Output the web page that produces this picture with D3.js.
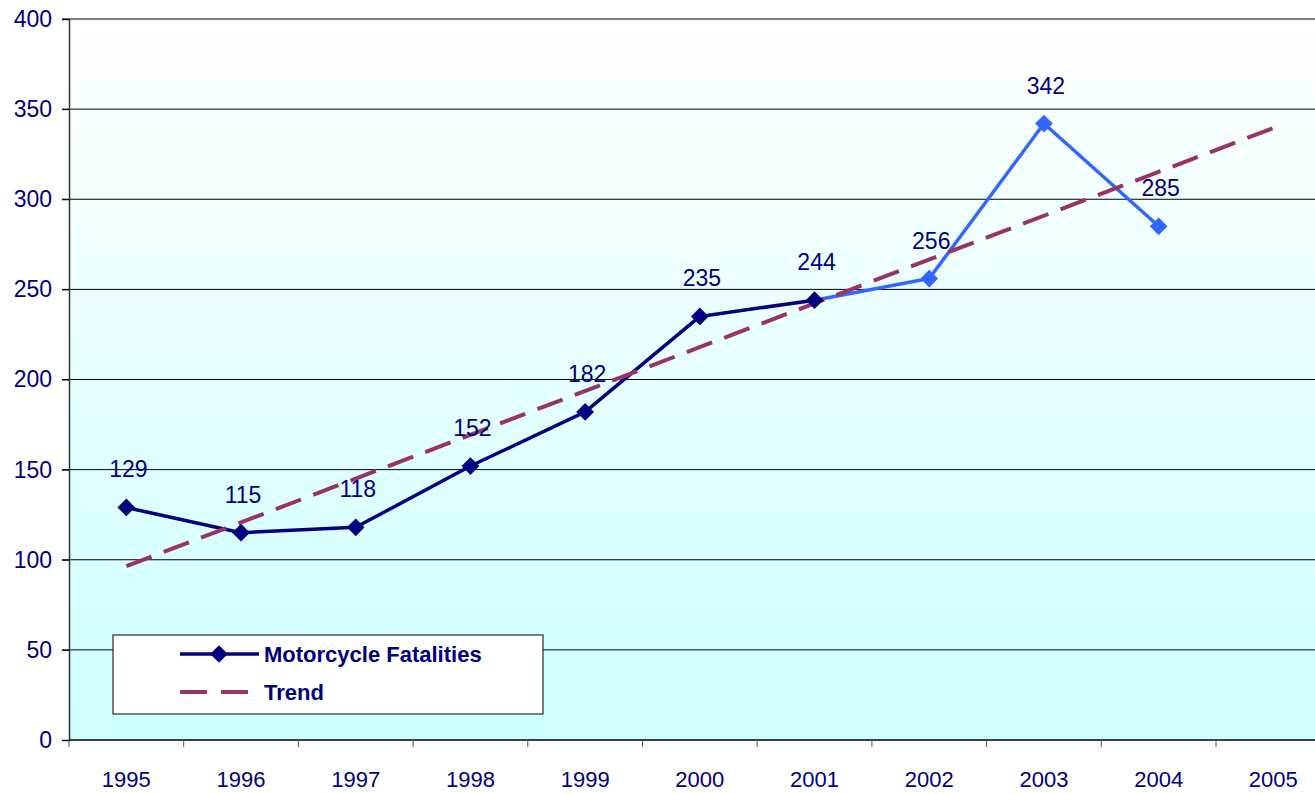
<!DOCTYPE html>
<html>
<head>
<meta charset="utf-8">
<script src="https://cdn.jsdelivr.net/npm/d3@7"></script>
<style>
  body { margin: 0; background: #ffffff; overflow: hidden; }
  text { font-family: "Liberation Sans", Arial, sans-serif; }
</style>
</head>
<body>
<div id="chart"></div>
<script>
// data
var years = ["1995", "1996", "1997", "1998", "1999", "2000", "2001", "2002", "2003", "2004", "2005"];
var fatalityYears = ["1995", "1996", "1997", "1998", "1999", "2000", "2001", "2002", "2003", "2004"];
var fatalities = [129, 115, 118, 152, 182, 235, 244, 256, 342, 285];
var trendYears = ["1995", "2005"];
var trendValues = [96.4, 339.5];
var yTicks = [0, 50, 100, 150, 200, 250, 300, 350, 400];

var W = 1315, H = 794;
var margin = {top: 19, left: 69, bottom: 54};
var bandW = 114.7;
var plotRight = margin.left + bandW * years.length;

var svg = d3.select("#chart").append("svg")
    .attr("width", W)
    .attr("height", H);

var x = d3.scaleBand()
    .domain(years)
    .range([margin.left, plotRight]);
var y = d3.scaleLinear()
    .domain([0, 400])
    .range([H - margin.bottom, margin.top]);

var cx = function(yr) { return x(yr) + x.bandwidth() / 2; };

// background gradient
var grad = svg.append("defs").append("linearGradient")
    .attr("id", "bg").attr("x1", 0).attr("y1", 0).attr("x2", 0).attr("y2", 1);
grad.append("stop").attr("offset", "0%").attr("stop-color", "#ffffff");
grad.append("stop").attr("offset", "100%").attr("stop-color", "#ccffff");

svg.append("rect")
    .attr("x", margin.left)
    .attr("y", y(400))
    .attr("width", plotRight - margin.left)
    .attr("height", y(0) - y(400))
    .attr("fill", "url(#bg)");

// gridlines
svg.append("g")
    .selectAll("line")
    .data(yTicks.filter(function(d) { return d > 0; }))
    .enter().append("line")
    .attr("x1", margin.left - 7)
    .attr("x2", plotRight)
    .attr("y1", function(d) { return y(d); })
    .attr("y2", function(d) { return y(d); })
    .attr("stroke", "#000")
    .attr("stroke-width", 1);

// Y axis
var yAxis = svg.append("g")
    .attr("transform", "translate(" + margin.left + ",0)")
    .call(d3.axisLeft(y).tickValues(yTicks).tickSize(7).tickPadding(10));
yAxis.select(".domain").attr("stroke", "#333").attr("stroke-width", 1.5);
yAxis.selectAll(".tick line").attr("stroke", "#000");
yAxis.selectAll(".tick text")
    .attr("fill", "#000080")
    .style("font-size", "23px")
    .style("font-family", "Liberation Sans, Arial, sans-serif");

// X axis (ticks between categories)
var xAxisG = svg.append("g")
    .attr("transform", "translate(0," + y(0) + ")");
xAxisG.append("line")
    .attr("x1", margin.left).attr("x2", plotRight)
    .attr("stroke", "#000").attr("stroke-width", 1.5);
xAxisG.selectAll(".sep")
    .data(years)
    .enter().append("line")
    .attr("class", "sep")
    .attr("x1", function(d) { return x(d); })
    .attr("x2", function(d) { return x(d); })
    .attr("y1", 0).attr("y2", 7)
    .attr("stroke", "#555");
xAxisG.selectAll(".lbl")
    .data(years)
    .enter().append("text")
    .attr("class", "lbl")
    .attr("x", function(d) { return cx(d); })
    .attr("y", 47)
    .attr("text-anchor", "middle")
    .attr("fill", "#000080")
    .style("font-size", "22px")
    .text(function(d) { return d; });

// series
var pts = fatalityYears.map(function(yr, i) { return {year: yr, value: fatalities[i], idx: i}; });
var dark = "#000080", light = "#3366ff";
var segColor = function(i) { return i >= 6 ? light : dark; };

svg.append("g").selectAll("line")
    .data(pts.slice(0, -1))
    .enter().append("line")
    .attr("x1", function(d) { return cx(d.year); })
    .attr("y1", function(d) { return y(d.value); })
    .attr("x2", function(d, i) { return cx(pts[i + 1].year); })
    .attr("y2", function(d, i) { return y(pts[i + 1].value); })
    .attr("stroke", function(d) { return segColor(d.idx); })
    .attr("stroke-width", 3.5);

// trend
svg.append("line")
    .attr("x1", cx(trendYears[0]))
    .attr("y1", y(trendValues[0]))
    .attr("x2", cx(trendYears[1]))
    .attr("y2", y(trendValues[1]))
    .attr("stroke", "#993366")
    .attr("stroke-width", 4)
    .attr("stroke-dasharray", "27,13");

// markers
var diamond = d3.symbol().type(d3.symbolDiamond2).size(200);
svg.append("g").selectAll("path")
    .data(pts)
    .enter().append("path")
    .attr("d", diamond)
    .attr("transform", function(d) { return "translate(" + cx(d.year) + "," + y(d.value) + ")"; })
    .attr("fill", function(d) { return d.idx >= 7 ? light : dark; });

// labels
svg.append("g").selectAll("text")
    .data(pts)
    .enter().append("text")
    .attr("x", function(d) { return cx(d.year) + 2; })
    .attr("y", function(d) { return y(d.value) - 30; })
    .attr("text-anchor", "middle")
    .attr("fill", "#000080")
    .style("font-size", "23px")
    .text(function(d) { return d.value; });

// legend
var lg = svg.append("g").attr("transform", "translate(113,635)");
lg.append("rect")
    .attr("width", 430).attr("height", 79)
    .attr("fill", "#fff").attr("stroke", "#000").attr("stroke-width", 1);
lg.append("line")
    .attr("x1", 67).attr("x2", 146).attr("y1", 19).attr("y2", 19)
    .attr("stroke", dark).attr("stroke-width", 3.5);
lg.append("path")
    .attr("d", diamond)
    .attr("transform", "translate(106,19)")
    .attr("fill", dark);
lg.append("text")
    .attr("x", 151).attr("y", 27)
    .attr("fill", "#000080")
    .style("font-size", "22px").style("font-weight", "bold")
    .text("Motorcycle Fatalities");
lg.append("line")
    .attr("x1", 67).attr("x2", 136).attr("y1", 57).attr("y2", 57)
    .attr("stroke", "#993366").attr("stroke-width", 4)
    .attr("stroke-dasharray", "27,14");
lg.append("text")
    .attr("x", 151).attr("y", 65)
    .attr("fill", "#000080")
    .style("font-size", "22px").style("font-weight", "bold")
    .text("Trend");
</script>
</body>
</html>
